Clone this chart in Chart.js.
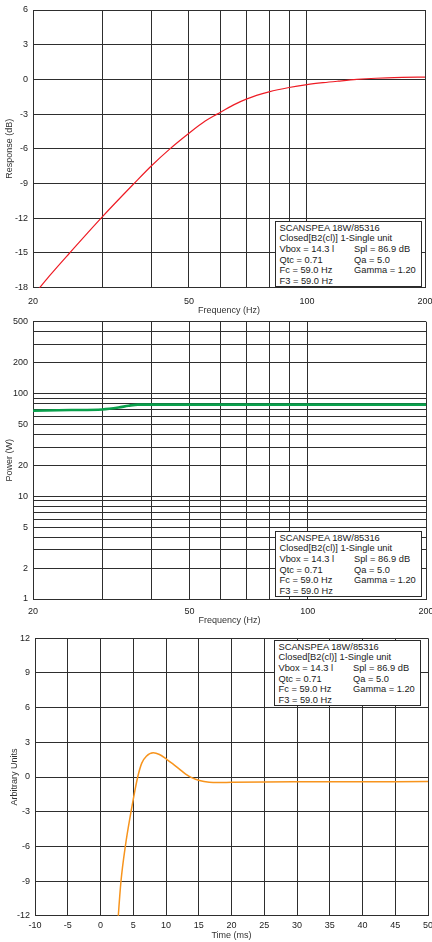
<!DOCTYPE html>
<html>
<head>
<meta charset="utf-8">
<script src="https://cdn.jsdelivr.net/npm/chart.js@4"></script>
<style>
  html, body { margin: 0; padding: 0; background: #fff; }
  body { width: 432px; height: 942px; position: relative; overflow: hidden; }
  canvas { position: absolute; left: 0; }
  .info {
    position: absolute; background: #fff; border: 1.5px solid #2a2a2a; box-sizing: border-box;
    font-family: 'Liberation Sans', Arial, sans-serif; font-size: 9.3px; line-height: 10.7px;
    color: #1a1a1a; padding: 0.5px 0 0 3.5px; white-space: nowrap;
  }
  .info .row { display: flex; }
  .info .row span:first-child { width: 74.5px; }
</style>
</head>
<body>
<canvas id="responseChart" width="432" height="316" style="top:0"></canvas>
<canvas id="powerChart" width="432" height="310" style="top:316px"></canvas>
<canvas id="stepChart" width="432" height="316" style="top:626px"></canvas>

<div class="info" style="left:275px;top:221px;width:147px;height:66px"></div>
<div class="info" style="left:275px;top:531px;width:147px;height:66px"></div>
<div class="info" style="left:274px;top:640px;width:147px;height:66px"></div>

<script>
// frequency response (dB)
const responseFreq = [20, 20.8, 22, 24.8, 30, 36.2, 40, 44.7, 50, 55, 59, 65, 70, 80, 90, 100, 110, 120, 134, 150, 175, 200];
const responseDb = [-18.7, -18.0, -17.0, -15.0, -11.9, -9.0, -7.5, -6.0, -4.65, -3.6, -3.0, -2.2, -1.7, -1.08, -0.7, -0.45, -0.28, -0.15, 0.0, 0.1, 0.17, 0.2];

// max power (W)
const powerFreq = [20, 25, 30, 33, 35, 37, 40, 60, 100, 200];
const powerW = [68, 69, 70, 73, 76, 78, 78, 78, 78, 78];

// step response
const stepTime = [2.5, 2.72, 3.13, 3.79, 4.66, 5.0, 5.68, 6.3, 7.0, 8.06, 9.0, 10.1, 11.0, 12.0, 13.0, 14.0, 15.1, 16.6, 18, 20, 25, 30, 40, 50];
const stepValue = [-14, -12, -9, -6, -3, -1.93, 0, 1.2, 1.8, 2.1, 1.95, 1.53, 1.15, 0.7, 0.25, -0.08, -0.3, -0.45, -0.48, -0.46, -0.43, -0.42, -0.41, -0.4];

// axis ticks
const freqGrid = [20, 30, 40, 50, 60, 70, 80, 90, 100, 200];
const freqLabels = [20, 50, 100, 200];
const powerGrid = [1, 2, 3, 4, 5, 6, 7, 8, 9, 10, 20, 30, 40, 50, 60, 70, 80, 90, 100, 200, 300, 400, 500];
const powerLabels = [1, 2, 5, 10, 20, 50, 100, 200, 500];

const infoLines = [
  ['SCANSPEA 18W/85316'],
  ['Closed[B2(cl)] 1-Single unit'],
  ['Vbox = 14.3 l', 'Spl = 86.9 dB'],
  ['Qtc = 0.71', 'Qa = 5.0'],
  ['Fc = 59.0 Hz', 'Gamma = 1.20'],
  ['F3 = 59.0 Hz']
];

document.querySelectorAll('.info').forEach((box) => {
  infoLines.forEach((line) => {
    const row = document.createElement('div');
    row.className = 'row';
    line.forEach((t) => {
      const s = document.createElement('span');
      s.textContent = t;
      row.appendChild(s);
    });
    box.appendChild(row);
  });
});

Chart.defaults.font.family = "'Liberation Sans', Arial, sans-serif";
Chart.defaults.font.size = 9;
Chart.defaults.color = '#333';

const gridColor = '#2e2e2e';
const gridOpts = { color: gridColor, lineWidth: 1, drawTicks: false };
const borderOpts = { color: gridColor, width: 1 };

function points(xs, ys) {
  return xs.map((x, i) => ({ x: x, y: ys[i] }));
}

function fixX(height) {
  return (s) => { s.height = height; s.paddingLeft = 0; s.paddingRight = 0; };
}
function fixY(width) {
  return (s) => { s.width = width; s.paddingTop = 0; s.paddingBottom = 0; };
}

function lineSet(data, color, width) {
  return {
    data: data,
    borderColor: color,
    borderWidth: width,
    pointRadius: 0,
    cubicInterpolationMode: 'monotone',
    fill: false
  };
}

const baseOptions = {
  responsive: false,
  animation: false,
  devicePixelRatio: 1,
  plugins: { legend: { display: false }, tooltip: { enabled: false } }
};

function freqAxis(height, pad) {
  return {
    type: 'logarithmic',
    min: 20,
    max: 200,
    grid: gridOpts,
    border: borderOpts,
    afterBuildTicks: (s) => { s.ticks = freqGrid.map((v) => ({ value: v })); },
    afterFit: fixX(height),
    ticks: {
      autoSkip: false, maxRotation: 0, padding: pad, color: '#222',
      callback: (v) => freqLabels.includes(v) ? String(v) : ''
    },
    title: { display: true, text: 'Frequency (Hz)', color: '#333', font: { size: 9 }, padding: 0 }
  };
}

new Chart(document.getElementById('responseChart'), {
  type: 'line',
  data: { datasets: [lineSet(points(responseFreq, responseDb), '#ee1c25', 1.2)] },
  options: Object.assign({}, baseOptions, {
    layout: { padding: { top: 10, right: 7, left: 0, bottom: 0 } },
    scales: {
      x: freqAxis(28.3, 8),
      y: {
        min: -18, max: 6,
        grid: gridOpts, border: borderOpts,
        afterFit: fixY(33),
        ticks: { stepSize: 3, padding: 5, color: '#222' },
        title: { display: true, text: 'Response (dB)', color: '#333', font: { size: 9 }, padding: { top: 4.6 } }
      }
    }
  })
});

new Chart(document.getElementById('powerChart'), {
  type: 'line',
  data: { datasets: [lineSet(points(powerFreq, powerW), '#0aa04c', 2.6)] },
  options: Object.assign({}, baseOptions, {
    layout: { padding: { top: 5.7, right: 6, left: 0, bottom: 0 } },
    scales: {
      x: freqAxis(27, 7.3),
      y: {
        type: 'logarithmic',
        min: 1, max: 500,
        grid: gridOpts, border: borderOpts,
        afterBuildTicks: (s) => { s.ticks = powerGrid.map((v) => ({ value: v })); },
        afterFit: fixY(33),
        ticks: {
          autoSkip: false, padding: 5, color: '#222',
          callback: (v) => powerLabels.includes(v) ? String(v) : ''
        },
        title: { display: true, text: 'Power (W)', color: '#333', font: { size: 9 }, padding: { top: 4.6 } }
      }
    }
  })
});

new Chart(document.getElementById('stepChart'), {
  type: 'line',
  data: { datasets: [lineSet(points(stepTime, stepValue), '#f7941d', 1.5)] },
  options: Object.assign({}, baseOptions, {
    layout: { padding: { top: 12.3, right: 4, left: 0, bottom: 0 } },
    scales: {
      x: {
        type: 'linear',
        min: -10, max: 50,
        grid: gridOpts, border: borderOpts,
        afterFit: fixX(26.3),
        ticks: { stepSize: 5, autoSkip: false, maxRotation: 0, padding: 4.6, color: '#222' },
        title: { display: true, text: 'Time (ms)', color: '#333', font: { size: 9 }, padding: { bottom: 0.9 } }
      },
      y: {
        min: -12, max: 12,
        grid: gridOpts, border: borderOpts,
        afterFit: fixY(35),
        ticks: { stepSize: 3, padding: 5, color: '#222' },
        title: { display: true, text: 'Arbitrary Units', color: '#333', font: { size: 9 }, padding: { top: 9.6 } }
      }
    }
  })
});
</script>
</body>
</html>
